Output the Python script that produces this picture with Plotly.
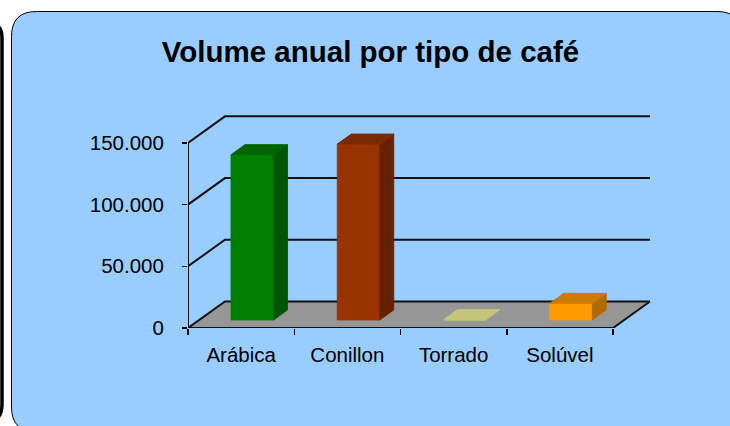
import plotly.graph_objects as go

# ---------------- data ----------------
categories = ["Arábica", "Conillon", "Torrado", "Solúvel"]
volumes = [134000, 142600, 300, 13500]
y_tick_values = [0, 50000, 100000, 150000]
y_tick_labels = ["0", "50.000", "100.000", "150.000"]
title_text = "Volume anual por tipo de café"

front_colors = ["#008000", "#993300", "#C8C870", "#FF9900"]
side_colors = ["#005500", "#662200", "#A8A860", "#B06A00"]
top_colors = ["#006400", "#7A2900", "#C4C47A", "#CC7A00"]

# ---------------- layout constants ----------------
W, H = 730, 426
PLOT_L, PLOT_T = 188, 100    # plot area in screen pixels
PLOT_W, PLOT_H = 472, 228
ML, MT = PLOT_L, PLOT_T
MR, MB = W - ML - PLOT_W, H - MT - PLOT_H
PX_PER_CAT = 106.25
PX_PER_150K = 185.1
Y_TOP_VAL = max(y_tick_values)
X_MAX = PLOT_W / PX_PER_CAT
Y_MAX = Y_TOP_VAL * PLOT_H / PX_PER_150K

N = len(categories)
DX = 0.348      # depth offset (category units)
DY = 21500      # depth offset (value units)
BAR_W = 0.4
F0, F1 = 0.3, 0.68
FONT = "Arial, Liberation Sans, sans-serif"


def P(px, py):
    """screen pixel -> paper coords string"""
    a = (px - PLOT_L) / PLOT_W
    b = (PLOT_T + PLOT_H - py) / PLOT_H
    return f"{a:.5f},{b:.5f}"


fig = go.Figure()

# floor
fig.add_trace(go.Scatter(
    x=[0, N, N + DX, DX, 0], y=[0, 0, DY, DY, 0],
    mode="lines", fill="toself", fillcolor="#969696",
    line=dict(width=0), hoverinfo="skip", showlegend=False))

# walls / gridlines / axis lines
lx, ly = [], []
for v in y_tick_values:
    lx += [0, DX, N + DX, None]
    ly += [v, v + DY, v + DY, None]
lx += [0, 0, None, 0, N, N + DX, None]
ly += [0, Y_TOP_VAL, None, 0, 0, DY, None]
fig.add_trace(go.Scatter(x=lx, y=ly, mode="lines",
                         line=dict(color="#111111", width=2),
                         hoverinfo="skip", showlegend=False))

# bars
d = F1 - F0
for i, v in enumerate(volumes):
    x0 = i + 0.5 - BAR_W / 2 + F0 * DX
    x1 = x0 + BAR_W
    yb = F0 * DY
    yt = yb + v
    ddx, ddy = d * DX, d * DY
    faces = [
        ([x0, x1, x1, x0, x0], [yb, yb, yt, yt, yb], front_colors[i]),
        ([x1, x1 + ddx, x1 + ddx, x1, x1], [yb, yb + ddy, yt + ddy, yt, yb], side_colors[i]),
        ([x0, x1, x1 + ddx, x0 + ddx, x0], [yt, yt, yt + ddy, yt + ddy, yt], top_colors[i]),
    ]
    for fx, fy, c in faces:
        fig.add_trace(go.Scatter(x=fx, y=fy, mode="lines", fill="toself",
                                 fillcolor=c, line=dict(color=c, width=0.8),
                                 hoverinfo="skip", showlegend=False))


def rounded_rect(x0, y0, x1, y1, r):
    return (f"M {P(x0 + r, y0)} L {P(x1 - r, y0)} Q {P(x1, y0)} {P(x1, y0 + r)} "
            f"L {P(x1, y1 - r)} Q {P(x1, y1)} {P(x1 - r, y1)} "
            f"L {P(x0 + r, y1)} Q {P(x0, y1)} {P(x0, y1 - r)} "
            f"L {P(x0, y0 + r)} Q {P(x0, y0)} {P(x0 + r, y0)} Z")


shapes = [
    dict(type="path", xref="paper", yref="paper", layer="below",
         path=rounded_rect(11.5, 11.5, 742, 432, 25),
         fillcolor="#99CCFF", line=dict(color="black", width=1)),
    dict(type="path", xref="paper", yref="paper", layer="below",
         path=(f"M {P(-20, 24)} L {P(-10, 24)} Q {P(2, 24)} {P(2, 38)} "
               f"L {P(2, 404)} Q {P(2, 420)} {P(-10, 420)} L {P(-20, 420)}"),
         line=dict(color="black", width=3.5)),
]

fig.update_layout(
    width=W, height=H, autosize=False,
    margin=dict(l=ML, r=MR, t=MT, b=MB, pad=0),
    paper_bgcolor="white", plot_bgcolor="rgba(0,0,0,0)",
    shapes=shapes,
    showlegend=False,
    title=dict(text=f"<b>{title_text}</b>", x=370.5 / W, xanchor="center",
               xref="container", y=1 - 52 / H, yanchor="middle", yref="container",
               font=dict(family=FONT, size=29.5, color="black")),
    xaxis=dict(range=[0, X_MAX], showgrid=False, zeroline=False, showline=False,
               tickmode="array", tickvals=[i + 0.5 for i in range(N)], ticktext=categories,
               ticks="", tickfont=dict(family=FONT, size=20.5, color="black"),
               ticklabelstandoff=12,
               minor=dict(tickmode="array", tickvals=list(range(N + 1)), ticks="outside",
                          ticklen=6, tickwidth=1.5, tickcolor="black", showgrid=False),
               fixedrange=True),
    yaxis=dict(range=[0, Y_MAX], showgrid=False, zeroline=False, showline=False,
               tickmode="array", tickvals=y_tick_values, ticktext=y_tick_labels,
               ticks="outside", ticklen=5, tickwidth=1.5, tickcolor="black",
               tickfont=dict(family=FONT, size=20.5, color="black"),
               ticklabelstandoff=14, fixedrange=True),
)

fig.write_html(
    "out.html",
    config={"displayModeBar": False, "staticPlot": True},
    post_script="document.body.style.margin='0';document.body.style.overflow='hidden';",
)
